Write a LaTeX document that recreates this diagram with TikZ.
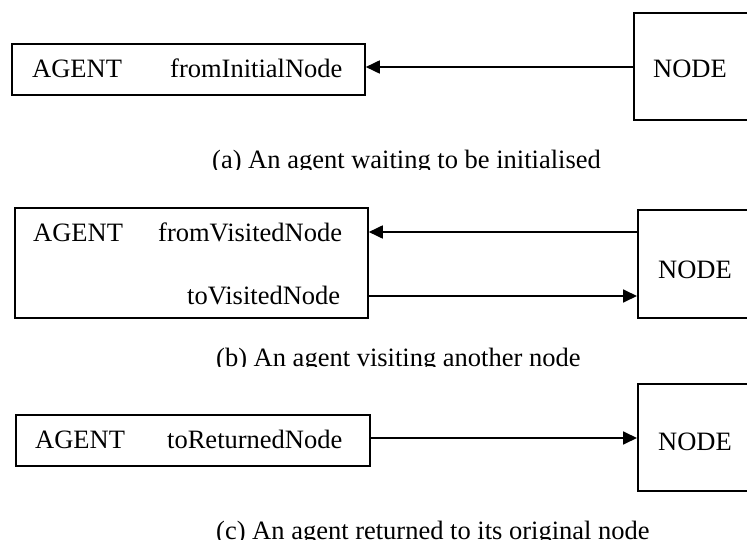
\documentclass[tikz,border=0pt]{standalone}
\usepackage{fontspec}
\setmainfont{Liberation Serif}
\usetikzlibrary{arrows.meta}
\begin{document}
\begin{tikzpicture}[x=1pt,y=-1pt,
  box/.style={draw, line width=1.8pt, rectangle, inner sep=0pt},
  txt/.style={font=\fontsize{26.5pt}{30pt}\selectfont, inner sep=0pt, anchor=base west},
  arr/.style={line width=1.8pt, -{Triangle[length=14pt,width=13pt]}}]
\useasboundingbox (0,0) rectangle (747,540);
\clip (0,0) rectangle (747,540);

% ---------- (a) ----------
\node[box, minimum width=353pt, minimum height=51pt, anchor=north west] (agentA) at (11,43) {};
\node[box, minimum width=130pt, minimum height=107pt, anchor=north west] (nodeA) at (633,12) {};
\node[txt] (agentAt) at (32,78) {AGENT};
\node[txt] (fromA) at (170,78) {fromInitialNode};
\node[txt] (nodeAt) at (653,78) {NODE};
\coordinate (ya) at (0,67);
\draw[arr] (nodeA.west |- ya) -- (agentA.east |- ya);
\begin{scope}
\clip (0,0) rectangle (747,169.5);
\node[txt] (capA) at (212,169) {(a) An agent waiting to be initialised};
\end{scope}

% ---------- (b) ----------
\node[box, minimum width=353pt, minimum height=110pt, anchor=north west] (agentB) at (14,207) {};
\node[box, minimum width=130pt, minimum height=108pt, anchor=north west] (nodeB) at (637,209) {};
\node[txt] (agentBt) at (33,242) {AGENT};
\node[txt] (fromB) at (158,242) {fromVisitedNode};
\node[txt] (toB) at (187,304) {toVisitedNode};
\node[txt] (nodeBt) at (658,278) {NODE};
\coordinate (yb1) at (0,232);
\coordinate (yb2) at (0,296);
\draw[arr] (nodeB.west |- yb1) -- (agentB.east |- yb1);
\draw[arr] (agentB.east |- yb2) -- (nodeB.west |- yb2);
\begin{scope}
\clip (0,0) rectangle (747,366.5);
\node[txt] (capB) at (216,366) {(b) An agent visiting another node};
\end{scope}

% ---------- (c) ----------
\node[box, minimum width=354pt, minimum height=51pt, anchor=north west] (agentC) at (15,414) {};
\node[box, minimum width=130pt, minimum height=107pt, anchor=north west] (nodeC) at (637,383) {};
\node[txt] (agentCt) at (35,448) {AGENT};
\node[txt] (toC) at (167,448) {toReturnedNode};
\node[txt] (nodeCt) at (658,450) {NODE};
\coordinate (yc) at (0,438);
\draw[arr] (agentC.east |- yc) -- (nodeC.west |- yc);
\node[txt] (capC) at (216,539) {(c) An agent returned to its original node};
\end{tikzpicture}
\end{document}
